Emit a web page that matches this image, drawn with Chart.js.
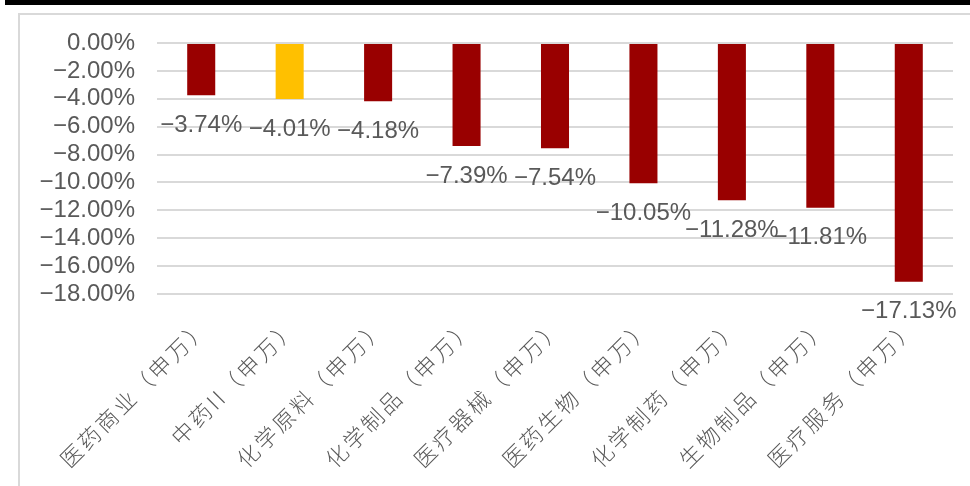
<!DOCTYPE html>
<html>
<head>
<meta charset="utf-8">
<script src="https://cdn.jsdelivr.net/npm/chart.js@4.4.1/dist/chart.umd.min.js"></script>
<style>
  html, body { margin: 0; padding: 0; background: #ffffff; overflow: hidden; }
  #topbar { position: absolute; left: 5px; top: 0; width: 965px; height: 5px; background: #000000; }
  #frame { position: absolute; left: 18px; top: 13px; width: 1000px; height: 600px;
           border-left: 2px solid #d9d9d9; border-top: 2px solid #d9d9d9; }
  #wrap { position: absolute; left: 0; top: 0; width: 970px; height: 486px; }
</style>
</head>
<body>
<div id="topbar"></div>
<div id="frame"></div>
<div id="wrap"><canvas id="chart"></canvas></div>
<script>
// Index names, weekly change (%) and bar colours
const categories = ['医药商业（申万）', '中药II（申万）', '化学原料（申万）', '化学制品（申万）',
  '医疗器械（申万）', '医药生物（申万）', '化学制药（申万）', '生物制品（申万）', '医疗服务（申万）'];
const changes = [-3.74, -4.01, -4.18, -7.39, -7.54, -10.05, -11.28, -11.81, -17.13];
const barColors = ['#990000', '#ffc000', '#990000', '#990000', '#990000',
  '#990000', '#990000', '#990000', '#990000'];
const yTicks = [0, -2, -4, -6, -8, -10, -12, -14, -16, -18];

const numFont = '"Liberation Sans", Arial, sans-serif';
const cjkFont = '"Noto Sans CJK SC", sans-serif';

function pct(v) {
  const s = Math.abs(v).toFixed(2) + '%';
  return v < 0 ? '\u2212' + s : s;
}

// value labels drawn just past the end of each bar
const valueLabels = {
  id: 'valueLabels',
  afterDatasetsDraw(chart) {
    const ctx = chart.ctx;
    const meta = chart.getDatasetMeta(0);
    ctx.save();
    ctx.font = '24px ' + numFont;
    ctx.fillStyle = '#595959';
    ctx.textAlign = 'center';
    ctx.textBaseline = 'middle';
    meta.data.forEach(function(bar, i) {
      ctx.fillText(pct(changes[i]), bar.x, bar.y + 30);
    });
    ctx.restore();
  }
};

// slanted category names, spaced out a little, hung off each x tick
const categoryLabels = {
  id: 'categoryLabels',
  afterDraw(chart) {
    const ctx = chart.ctx;
    const xs = chart.scales.x;
    const y0 = chart.chartArea.bottom + 28;
    ctx.save();
    ctx.font = '300 22px ' + cjkFont;
    ctx.fillStyle = '#595959';
    ctx.textAlign = 'right';
    ctx.textBaseline = 'middle';
    ctx.letterSpacing = '3px';
    categories.forEach(function(name, i) {
      const x = xs.getPixelForTick(i) + 4;
      ctx.save();
      ctx.translate(x, y0);
      ctx.rotate(-Math.PI / 4);
      ctx.fillText(name, 0, 0);
      ctx.restore();
    });
    ctx.restore();
  }
};

new Chart(document.getElementById('chart'), {
  type: 'bar',
  data: {
    labels: categories,
    datasets: [{
      data: changes,
      backgroundColor: barColors,
      borderWidth: 0,
      categoryPercentage: 1,
      barPercentage: 0.317
    }]
  },
  options: {
    responsive: true,
    maintainAspectRatio: false,
    animation: false,
    layout: { padding: { top: 43, right: 17, left: 0, bottom: 0 } },
    plugins: { legend: { display: false }, tooltip: { enabled: false } },
    scales: {
      x: {
        grid: { display: false, drawTicks: false },
        border: { display: false },
        ticks: { display: false },
        afterFit: function(scale) { scale.height = 192; }
      },
      y: {
        min: -18,
        max: 0,
        afterBuildTicks: function(scale) {
          scale.ticks = yTicks.map(function(v) { return { value: v }; });
        },
        grid: { color: '#d9d9d9', lineWidth: 2, drawTicks: false },
        border: { display: false },
        ticks: {
          color: '#595959',
          font: { family: numFont, size: 24 },
          padding: 22,
          autoSkip: false,
          callback: function(v) { return pct(v); }
        },
        afterFit: function(scale) { scale.width = 157; }
      }
    }
  },
  plugins: [valueLabels, categoryLabels]
});
</script>
</body>
</html>
